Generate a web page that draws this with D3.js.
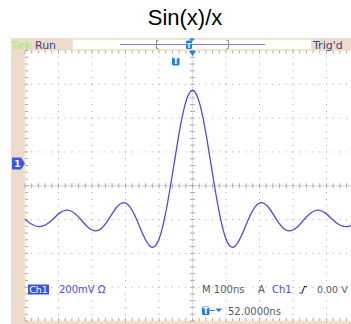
<!DOCTYPE html>
<html lang="en">
	<head>
		<meta charset="UTF-8" />
		<title>Sin(x)/x</title>
		<script src="https://d3js.org/d3.v7.min.js"></script>
		<style>
			body {
				margin: 0;
				background: white;
			}
			svg text {
				font-family: "DejaVu Sans", Verdana, sans-serif;
			}
		</style>
	</head>
	<body>
		<svg id="svg" width="351" height="324"></svg>
		<script>
			// sample times (ns from trigger) and ch1 voltage (mV)
			const times = [
				-501, -480, -459, -438, -417, -397, -376, -355, -334, -313,
				-292, -271, -250, -230, -209, -188, -167, -146, -125, -104,
				-84, -63, -42, -21, 0, 21, 42, 63, 84, 104, 125, 146, 167,
				188, 209, 230, 250, 271, 292, 313, 334, 355, 376, 397, 417,
				438, 459, 480, 501,
			];
			const volts = [
				-330, -360, -374, -363, -330, -294, -276, -290, -330, -376,
				-399, -383, -330, -268, -233, -254, -330, -428, -492, -467,
				-330, -101, 156, 357, 433, 357, 156, -101, -330, -467, -492,
				-428, -330, -254, -233, -268, -330, -383, -399, -376, -330,
				-290, -276, -294, -330, -363, -374, -360, -330,
			];
			const voltsPerDiv = 200; // mV
			const timePerDiv = 100; // ns
			const ch1Position = 0.66; // divisions above centre
			const bottomLabels = ["M 100ns", "A", "Ch1", "0.00 V"];
			const triggerDelay = "52.0000ns";

			const svg = d3.select("svg");
			const beige = "#eddccb";
			const azure = "#1f7fe0";
			const blue = "#4b4be3";
			const grey = "#55556e";

			svg.append("text")
				.attr("x", 185)
				.attr("y", 25)
				.attr("text-anchor", "middle")
				.style("font-family", "'Liberation Sans', Arial, sans-serif")
				.style("font-size", "22px")
				.text("Sin(x)/x");

			// scope frame
			svg.append("rect")
				.attr("x", 11)
				.attr("y", 38)
				.attr("width", 340)
				.attr("height", 286)
				.attr("fill", beige);

			const plotLeft = 25,
				plotRight = 360,
				plotTop = 50.5,
				plotBottom = 321;

			const gx = d3.scaleLinear().domain([-5, 5]).range([plotLeft, plotRight]);
			const gy = d3.scaleLinear().domain([-4, 4]).range([plotBottom, plotTop]);
			const xScale = d3
				.scaleLinear()
				.domain([-5 * timePerDiv, 5 * timePerDiv])
				.range([plotLeft, plotRight]);
			const yScale = d3
				.scaleLinear()
				.domain([
					(-4 - ch1Position) * voltsPerDiv,
					(4 - ch1Position) * voltsPerDiv,
				])
				.range([plotBottom, plotTop]);

			svg.append("rect")
				.attr("x", plotLeft)
				.attr("y", plotTop)
				.attr("width", plotRight - plotLeft)
				.attr("height", plotBottom - plotTop)
				.attr("fill", "white")
				.attr("stroke", "#f1ebc4");

			const minorX = d3.range(-25, 26).map((k) => k / 5);
			const minorY = d3.range(-20, 21).map((k) => k / 5);
			const g = svg.append("g");

			// dotted graticule
			[-4, -3, -2, -1, 1, 2, 3, 4].forEach((i) => {
				g.selectAll(null)
					.data(minorY)
					.enter()
					.append("rect")
					.attr("x", gx(i) - 0.5)
					.attr("y", (d) => gy(d) - 0.5)
					.attr("width", 1)
					.attr("height", 1)
					.attr("fill", "#a4a4a4");
			});
			[-3, -2, -1, 1, 2, 3].forEach((j) => {
				g.selectAll(null)
					.data(minorX)
					.enter()
					.append("rect")
					.attr("x", (d) => gx(d) - 0.5)
					.attr("y", gy(j) - 0.5)
					.attr("width", 1)
					.attr("height", 1)
					.attr("fill", "#a4a4a4");
			});

			// centre axes and edge ticks
			g.append("line")
				.attr("x1", plotLeft)
				.attr("x2", plotRight)
				.attr("y1", gy(0))
				.attr("y2", gy(0))
				.attr("stroke", "#cfcfd8");
			g.append("line")
				.attr("x1", gx(0))
				.attr("x2", gx(0))
				.attr("y1", plotTop)
				.attr("y2", plotBottom)
				.attr("stroke", "#cfcfd8")
				.attr("stroke-dasharray", "2,1");
			const tickColor = "#a8a8b4";
			g.selectAll(null)
				.data(minorX)
				.enter()
				.append("line")
				.attr("x1", (d) => gx(d))
				.attr("x2", (d) => gx(d))
				.attr("y1", gy(0) - 2.5)
				.attr("y2", gy(0) + 2.5)
				.attr("stroke", tickColor);
			g.selectAll(null)
				.data(minorY)
				.enter()
				.append("line")
				.attr("x1", gx(0) - 2.5)
				.attr("x2", gx(0) + 2.5)
				.attr("y1", (d) => gy(d))
				.attr("y2", (d) => gy(d))
				.attr("stroke", tickColor);
			g.selectAll(null)
				.data(minorX)
				.enter()
				.append("line")
				.attr("x1", (d) => gx(d))
				.attr("x2", (d) => gx(d))
				.attr("y1", plotTop)
				.attr("y2", plotTop + 3)
				.attr("stroke", tickColor);
			g.selectAll(null)
				.data(minorX)
				.enter()
				.append("line")
				.attr("x1", (d) => gx(d))
				.attr("x2", (d) => gx(d))
				.attr("y1", plotBottom - 3)
				.attr("y2", plotBottom)
				.attr("stroke", tickColor);
			g.selectAll(null)
				.data(minorY)
				.enter()
				.append("line")
				.attr("x1", plotLeft)
				.attr("x2", plotLeft + 3)
				.attr("y1", (d) => gy(d))
				.attr("y2", (d) => gy(d))
				.attr("stroke", tickColor);

			// waveform
			svg.append("clipPath")
				.attr("id", "plotClip")
				.append("rect")
				.attr("x", plotLeft)
				.attr("y", plotTop)
				.attr("width", plotRight - plotLeft)
				.attr("height", plotBottom - plotTop);
			const points = times.map((t, i) => [t, volts[i]]);
			svg.append("path")
				.datum(points)
				.attr("clip-path", "url(#plotClip)")
				.attr("fill", "none")
				.attr("stroke", blue)
				.attr("stroke-width", 1.3)
				.attr(
					"d",
					d3
						.line()
						.x((d) => xScale(d[0]))
						.y((d) => yScale(d[1]))
						.curve(d3.curveNatural)
				);

			// channel 1 ground marker
			const gy0 = yScale(0);
			svg.append("path")
				.attr(
					"d",
					`M12,${gy0 - 6}H21L25,${gy0}L21,${gy0 + 6}H12Z`
				)
				.attr("fill", "#3d56e6");
			svg.append("text")
				.attr("x", 17.5)
				.attr("y", gy0 + 3.5)
				.attr("text-anchor", "middle")
				.attr("fill", "white")
				.style("font-size", "9px")
				.style("font-weight", "bold")
				.text("1");

			// top status bar
			svg.append("text")
				.attr("x", 11)
				.attr("y", 48.5)
				.attr("fill", "#b0f080")
				.style("font-size", "11px")
				.style("font-weight", "bold")
				.text("Tek");
			svg.append("text")
				.attr("x", 35)
				.attr("y", 48.5)
				.attr("fill", "#3d3d88")
				.style("font-size", "11px")
				.text("Run");
			svg.append("text")
				.attr("x", 313)
				.attr("y", 48.5)
				.attr("fill", "#3d3d88")
				.style("font-size", "11px")
				.text("Trig'd");
			svg.append("rect")
				.attr("x", 72.5)
				.attr("y", 39.5)
				.attr("width", 239)
				.attr("height", 10)
				.attr("fill", "white")
				.attr("stroke", "#efe6d2");
			svg.append("line")
				.attr("x1", 120)
				.attr("x2", 265)
				.attr("y1", 44.5)
				.attr("y2", 44.5)
				.attr("stroke", "#7b7bee");
			svg.append("path")
				.attr("d", "M158.5,40.5H156.5V48.5H158.5M226.5,40.5H228.5V48.5H226.5")
				.attr("fill", "none")
				.attr("stroke", "#8a8aa0");
			svg.append("rect")
				.attr("x", 186)
				.attr("y", 40.5)
				.attr("width", 6)
				.attr("height", 8.5)
				.attr("rx", 1.5)
				.attr("fill", azure);
			svg.append("path").attr("d", "M189,38.5H195L192,41.5Z").attr("fill", azure);
			svg.append("text")
				.attr("x", 189)
				.attr("y", 47.5)
				.attr("text-anchor", "middle")
				.attr("fill", "white")
				.style("font-size", "7px")
				.style("font-weight", "bold")
				.text("T");

			// trigger position markers
			svg.append("path")
				.attr("d", `M${gx(0) - 3.5},${plotTop + 0.5}H${gx(0) + 3.5}L${gx(0)},${plotTop + 5.5}Z`)
				.attr("fill", azure);
			svg.append("rect")
				.attr("x", 172)
				.attr("y", 57)
				.attr("width", 7.5)
				.attr("height", 8.5)
				.attr("rx", 1.5)
				.attr("fill", azure);
			svg.append("text")
				.attr("x", 175.75)
				.attr("y", 64)
				.attr("text-anchor", "middle")
				.attr("fill", "white")
				.style("font-size", "8px")
				.style("font-weight", "bold")
				.text("T");

			// bottom readouts
			svg.append("rect")
				.attr("x", 28)
				.attr("y", 284.5)
				.attr("width", 21)
				.attr("height", 10)
				.attr("fill", "#3d50e0");
			svg.append("text")
				.attr("x", 38.5)
				.attr("y", 293)
				.attr("text-anchor", "middle")
				.attr("fill", "white")
				.style("font-size", "9.5px")
				.text("Ch1");
			svg.append("text")
				.attr("x", 59)
				.attr("y", 293)
				.attr("fill", blue)
				.style("font-size", "10px")
				.text(voltsPerDiv + "mV \u03a9");
			svg.append("text")
				.attr("x", 202)
				.attr("y", 293)
				.attr("fill", grey)
				.style("font-size", "10px")
				.text(bottomLabels[0]);
			svg.append("text")
				.attr("x", 258)
				.attr("y", 293)
				.attr("fill", grey)
				.style("font-size", "10px")
				.text(bottomLabels[1]);
			svg.append("text")
				.attr("x", 272)
				.attr("y", 293)
				.attr("fill", blue)
				.style("font-size", "10px")
				.text(bottomLabels[2]);
			svg.append("path")
				.attr("d", "M299.5,293H302L304.5,286.5H307")
				.attr("fill", "none")
				.attr("stroke", "#333350")
				.attr("stroke-width", 1.2);
			svg.append("text")
				.attr("x", 317)
				.attr("y", 293)
				.attr("fill", grey)
				.style("font-size", "9.5px")
				.text(bottomLabels[3]);

			svg.append("rect")
				.attr("x", 202)
				.attr("y", 306.5)
				.attr("width", 7.5)
				.attr("height", 8.5)
				.attr("rx", 1.5)
				.attr("fill", azure);
			svg.append("text")
				.attr("x", 205.75)
				.attr("y", 313.5)
				.attr("text-anchor", "middle")
				.attr("fill", "white")
				.style("font-size", "8px")
				.style("font-weight", "bold")
				.text("T");
			svg.append("path")
				.attr("d", "M210,310.5H215")
				.attr("stroke", azure);
			svg.append("path")
				.attr("d", "M215.5,308.5H222L218.75,312Z")
				.attr("fill", azure);
			svg.append("text")
				.attr("x", 228)
				.attr("y", 314.5)
				.attr("fill", grey)
				.style("font-size", "10px")
				.text(triggerDelay);
		</script>
	</body>
</html>
